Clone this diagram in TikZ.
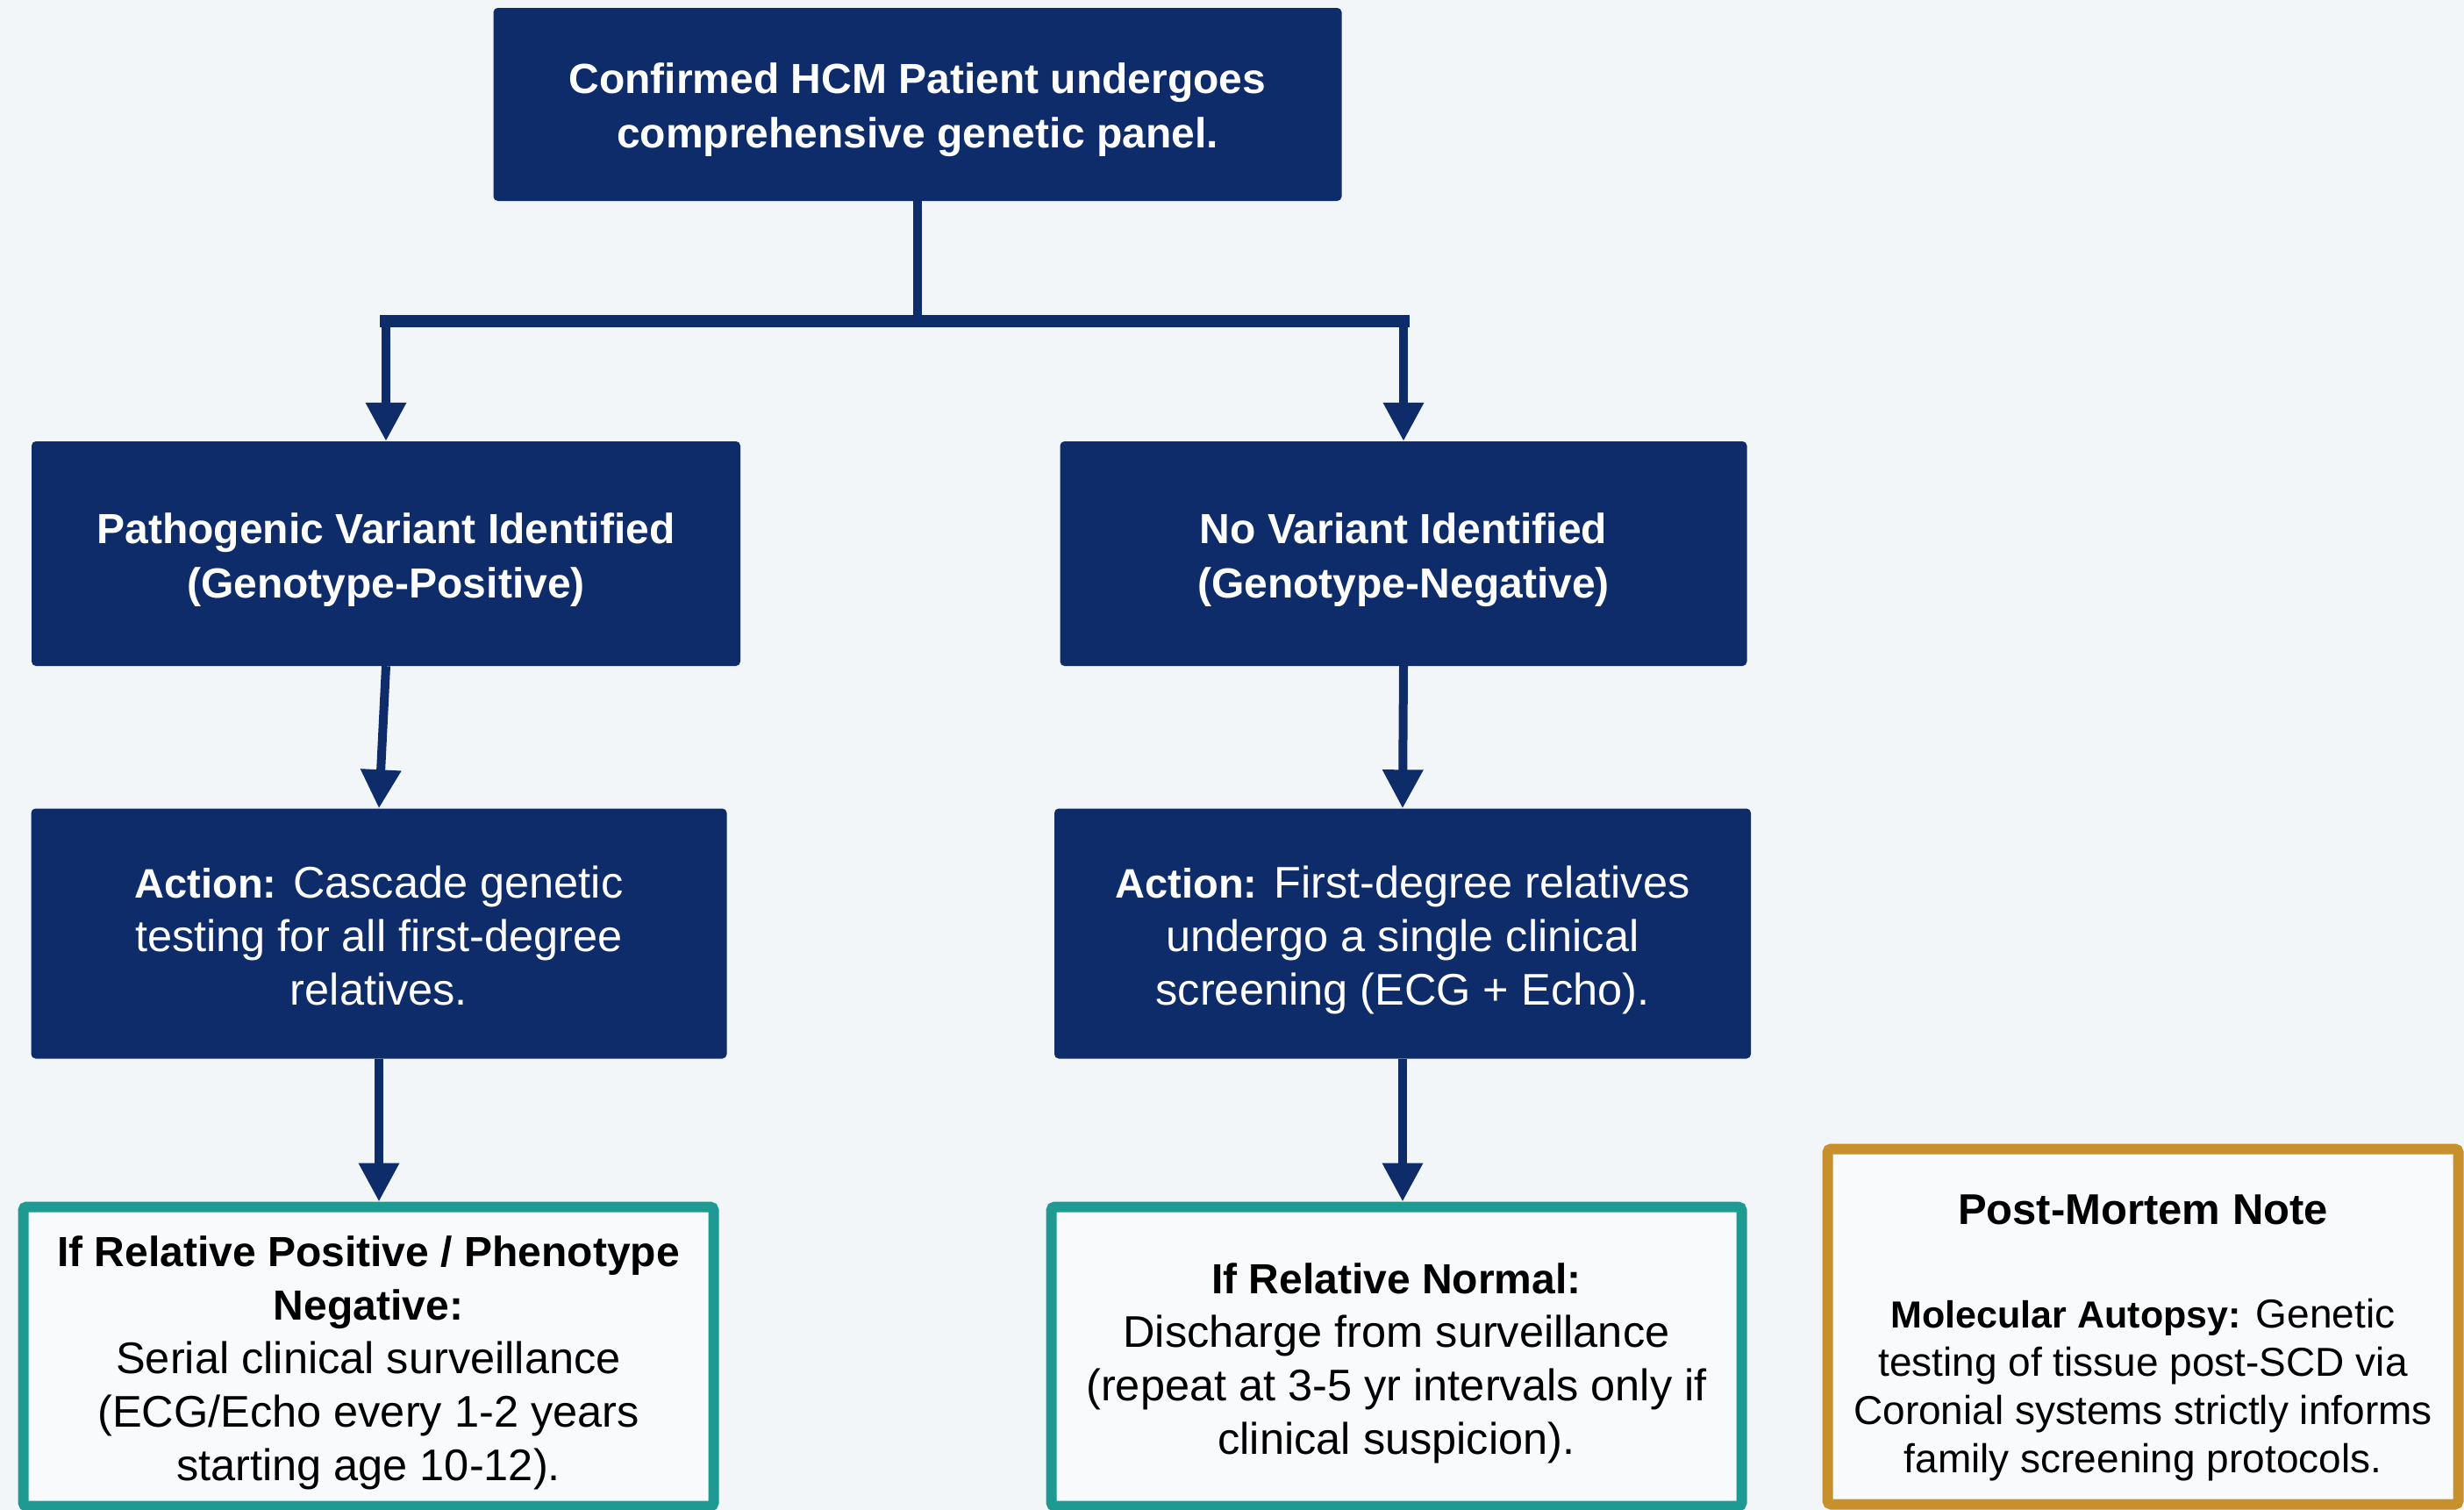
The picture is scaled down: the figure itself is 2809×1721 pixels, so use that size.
\documentclass[tikz,border=0pt]{standalone}
\usepackage{fontspec}
\setmainfont{Liberation Sans}
\usetikzlibrary{arrows.meta}
\definecolor{navy}{HTML}{0E2C6A}
\definecolor{tealc}{HTML}{1E9A93}
\definecolor{goldc}{HTML}{C8902C}
\definecolor{bgc}{HTML}{F3F6F9}
\definecolor{boxbg}{HTML}{F8FAFB}
\newcommand{\bfx}[1]{{\fontsize{47}{61}\selectfont\bfseries #1}}
\newcommand{\bfy}[1]{{\fontsize{48}{61}\selectfont\bfseries #1}}
\newcommand{\bfz}[1]{{\fontsize{43}{55}\selectfont\bfseries #1}}
\newcommand{\strt}[1]{\rule{0pt}{#1pt}}
\begin{document}
\begin{tikzpicture}[x=1pt,y=-1pt,
  navybox/.style={fill=navy, rounded corners=5pt, text=white, align=center, inner sep=0pt,
    font=\fontsize{48}{62}\selectfont\bfseries},
  actbox/.style={navybox, font=\fontsize{50.5}{61}\selectfont},
  outbox/.style={draw=tealc, line width=12pt, fill=boxbg, rounded corners=4pt, align=center,
    inner sep=0pt, text=black, font=\fontsize{50.5}{61}\selectfont},
  notebox/.style={outbox, draw=goldc, font=\fontsize{46}{55}\selectfont},
  conn/.style={draw=navy, line width=10pt},
  arr/.style={conn, -{Triangle[width=44pt,length=44pt]}},
]
\fill[bgc] (0,0) rectangle (2809,1721);
\useasboundingbox (0,0) rectangle (2809,1721);
\clip (0,0) rectangle (2809,1721);

\node[navybox, minimum width=967pt, minimum height=220pt] (top) at (1046,119)
  {\strt{47}Confirmed HCM Patient undergoes\\comprehensive genetic panel.};

\node[navybox, minimum width=808pt, minimum height=256pt] (l1) at (440,631)
  {\strt{49}Pathogenic Variant Identified\\(Genotype-Positive)};
\node[navybox, minimum width=783pt, minimum height=256pt] (r1) at (1600,631)
  {\strt{49}No Variant Identified\\(Genotype-Negative)};

\node[actbox, minimum width=793pt, minimum height=285pt] (l2) at (432,1064)
  {\strt{41}\bfx{Action:} Cascade genetic\\testing for all first-degree\\relatives.};
\node[actbox, minimum width=794pt, minimum height=285pt] (r2) at (1599,1064)
  {\strt{51}\bfx{Action:} First-degree relatives\\undergo a single clinical\\screening (ECG + Echo).};

\node[outbox, minimum width=787pt, minimum height=341pt] (l3) at (420,1546)
  {\strt{49}\bfy{If Relative Positive / Phenotype}\\\bfy{Negative:}\\Serial clinical surveillance\\(ECG/Echo every 1-2 years\\starting age 10-12).};
\node[outbox, minimum width=787pt, minimum height=341pt] (r3) at (1592,1546)
  {\strt{51}\bfy{If Relative Normal:}\\Discharge from surveillance\\(repeat at 3-5 yr intervals only if\\clinical suspicion).};

\node[notebox, minimum width=719pt, minimum height=405pt] (pm) at (2443,1512)
  {\strt{60}{\fontsize{49}{55}\selectfont\bfseries Post-Mortem Note}\\[63pt]
   \bfz{Molecular Autopsy:} Genetic\\testing of tissue post-SCD via\\Coronial systems strictly informs\\family screening protocols.};

\coordinate (j) at (1046,366);
\draw[conn] (top.south) -- (j);
\draw[navy, line width=14pt, line cap=rect] (l1.north |- j) -- (r1.north |- j);
\draw[arr] (j) -| (l1.north);
\draw[arr] (j) -| (r1.north);
\draw[arr] (l1.south) -- (l2.north);
\draw[arr] (r1.south) -- (r2.north);
\draw[arr] (l2.south) -- (l2.south |- l3.north);
\draw[arr] (r2.south) -- (r2.south |- r3.north);
\end{tikzpicture}
\end{document}
